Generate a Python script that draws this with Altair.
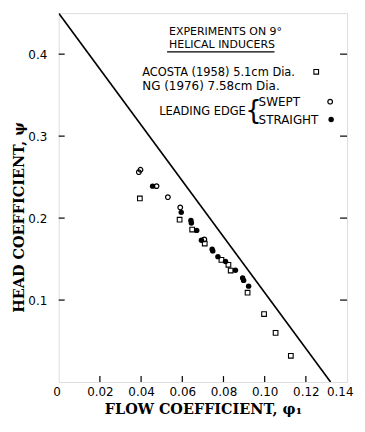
import altair as alt
import pandas as pd

# --- data ---
acosta_phi = [0.0394, 0.0587, 0.0648, 0.0709, 0.0790, 0.0824, 0.0835, 0.0917, 0.0997, 0.1053, 0.1127]
acosta_psi = [0.224, 0.198, 0.186, 0.169, 0.149, 0.143, 0.136, 0.109, 0.083, 0.060, 0.032]

swept_phi = [0.0389, 0.0397, 0.0475, 0.0530, 0.0590, 0.0707]
swept_psi = [0.256, 0.259, 0.239, 0.2255, 0.213, 0.174]

straight_phi = [0.0456, 0.0595, 0.0642, 0.0644, 0.0670, 0.0693, 0.0745, 0.0748, 0.0773,
                0.0810, 0.0858, 0.0893, 0.0898, 0.0922]
straight_psi = [0.239, 0.207, 0.197, 0.194, 0.185, 0.173, 0.162, 0.160, 0.153,
                0.147, 0.1365, 0.127, 0.124, 0.117]

line_phi = [0.0, 0.132]
line_psi = [0.45, 0.0]

x_ticks = [0.0, 0.02, 0.04, 0.06, 0.08, 0.10, 0.12, 0.14]
y_ticks = [0.1, 0.2, 0.3, 0.4]

W, H = 290, 371
XD = [0, 0.14]
YD = [0, 0.45]

xs = alt.Scale(domain=XD, nice=False, zero=False)
ys = alt.Scale(domain=YD, nice=False, zero=False)

x_axis = alt.Axis(values=x_ticks, ticks=False, domain=False, grid=False,
                  labelExpr="datum.value == 0 ? '0' : format(datum.value, '.2f')",
                  labelFont="DejaVu Sans", labelFontSize=12, labelColor="black",
                  labelPadding=5, labelFlush=True, labelFlushOffset=6,
                  title="FLOW COEFFICIENT,   φ₁", titleFont="DejaVu Serif",
                  titleFontSize=14.5, titleFontWeight="bold", titleColor="black",
                  titlePadding=5)
y_axis = alt.Axis(values=y_ticks, ticks=False, domain=False, grid=False, format=".1f",
                  labelFont="DejaVu Sans", labelFontSize=12, labelColor="black",
                  labelPadding=12,
                  title="HEAD COEFFICIENT,   ψ", titleFont="DejaVu Serif",
                  titleFontSize=14.5, titleFontWeight="bold", titleColor="black",
                  titleAngle=-90, titleBaseline="middle", titleAlign="center",
                  titleX=-39, titleY=205)

df_line = pd.DataFrame({"phi": line_phi, "psi": line_psi})
df_a = pd.DataFrame({"phi": acosta_phi, "psi": acosta_psi})
df_sw = pd.DataFrame({"phi": swept_phi, "psi": swept_psi})
df_st = pd.DataFrame({"phi": straight_phi, "psi": straight_psi})
df_xt = pd.DataFrame({"phi": x_ticks[1:-1]})
df_yt = pd.DataFrame({"psi": y_ticks})

line = alt.Chart(df_line).mark_line(color="black", strokeWidth=1.6, clip=True).encode(
    x=alt.X("phi:Q", scale=xs, axis=x_axis),
    y=alt.Y("psi:Q", scale=ys, axis=y_axis),
)
sq = alt.Chart(df_a).mark_point(shape="square", filled=False, size=22, color="black",
                                strokeWidth=1.1, opacity=1).encode(
    x=alt.X("phi:Q", scale=xs), y=alt.Y("psi:Q", scale=ys))
oc = alt.Chart(df_sw).mark_point(shape="circle", filled=False, size=22, color="black",
                                 strokeWidth=1.2, opacity=1).encode(
    x=alt.X("phi:Q", scale=xs), y=alt.Y("psi:Q", scale=ys))
fc = alt.Chart(df_st).mark_point(shape="circle", filled=True, size=30, color="black",
                                 opacity=1).encode(
    x=alt.X("phi:Q", scale=xs), y=alt.Y("psi:Q", scale=ys))

xt = alt.Chart(df_xt).mark_rule(color="black", strokeWidth=1.2).encode(
    x=alt.X("phi:Q", scale=xs), y=alt.value(H), y2=alt.value(H - 6))
ytl = alt.Chart(df_yt).mark_rule(color="black", strokeWidth=1.2).encode(
    y=alt.Y("psi:Q", scale=ys), x=alt.value(0), x2=alt.value(6))
ytr = alt.Chart(df_yt).mark_rule(color="black", strokeWidth=1.2).encode(
    y=alt.Y("psi:Q", scale=ys), x=alt.value(W - 7), x2=alt.value(W))

OX, OY = 59, 12  # page coordinates of plot origin


def txt(s, px, py, size=12, align="left", font="DejaVu Sans"):
    return alt.Chart(pd.DataFrame({"t": [s]})).mark_text(
        align=align, baseline="middle", font=font, fontSize=size, color="black"
    ).encode(text="t:N", x=alt.value(px - OX), y=alt.value(py - OY))


texts = [
    txt("EXPERIMENTS ON 9°", 170, 31, size=11),
    txt("HELICAL INDUCERS", 170, 44, size=11),
    txt("ACOSTA (1958) 5.1cm Dia.", 143, 72, size=11.5),
    txt("NG (1976) 7.58cm Dia.", 143, 85),
    txt("LEADING EDGE", 160, 111, size=11.5),
    txt("{", 255, 110, size=26, align="center"),
    txt("SWEPT", 260, 101),
    txt("STRAIGHT", 260, 119),
]
underline = alt.Chart(pd.DataFrame({"a": [0]})).mark_rule(color="black", strokeWidth=1.2).encode(
    x=alt.value(168 - OX), x2=alt.value(276 - OX), y=alt.value(51 - OY))
leg_sq = alt.Chart(pd.DataFrame({"a": [0]})).mark_point(
    shape="square", filled=False, size=22, color="black", strokeWidth=1.1, opacity=1
).encode(x=alt.value(318 - OX), y=alt.value(71 - OY))
leg_oc = alt.Chart(pd.DataFrame({"a": [0]})).mark_point(
    shape="circle", filled=False, size=22, color="black", strokeWidth=1.2, opacity=1
).encode(x=alt.value(332 - OX), y=alt.value(101 - OY))
leg_fc = alt.Chart(pd.DataFrame({"a": [0]})).mark_point(
    shape="circle", filled=True, size=30, color="black", opacity=1
).encode(x=alt.value(333 - OX), y=alt.value(119 - OY))

chart = alt.layer(line, sq, oc, fc, xt, ytl, ytr, underline, leg_sq, leg_oc, leg_fc, *texts).properties(
    width=W, height=H,
    autosize=alt.AutoSizeParams(type="none"),
    padding={"left": 51, "top": 4, "right": 10, "bottom": 41},
).configure_view(stroke="black", strokeWidth=1.6).configure(background="white")

chart.save("out.html", embed_options={"renderer": "svg", "actions": False})
